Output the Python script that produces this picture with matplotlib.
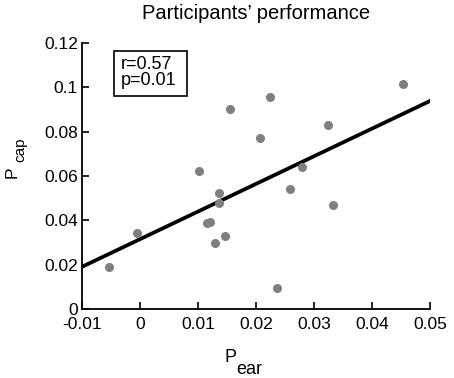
import matplotlib
matplotlib.use('Agg')
import matplotlib.pyplot as plt
from matplotlib.patches import Rectangle

plt.rcParams['font.family'] = ['Liberation Sans', 'DejaVu Sans']

# participants' values
p_ear = [-0.0053, -0.0005, 0.0115, 0.0120, 0.0130, 0.0147, 0.0136, 0.0137,
         0.0101, 0.0156, 0.0224, 0.0207, 0.0324, 0.0454, 0.0280, 0.0258,
         0.0333, 0.0236]
p_cap = [0.0190, 0.0341, 0.0389, 0.0394, 0.0299, 0.0331, 0.0525, 0.0480,
         0.0622, 0.0903, 0.0958, 0.0771, 0.0830, 0.1016, 0.0640, 0.0541,
         0.0469, 0.0096]

# regression line (slope, intercept)
fit_slope = 1.247
fit_intercept = 0.0315
fit_x = [-0.01, 0.05]

xticks = [-0.01, 0, 0.01, 0.02, 0.03, 0.04, 0.05]
xticklabels = ['-0.01', '0', '0.01', '0.02', '0.03', '0.04', '0.05']
yticks = [0, 0.02, 0.04, 0.06, 0.08, 0.1, 0.12]
yticklabels = ['0', '0.02', '0.04', '0.06', '0.08', '0.1', '0.12']

W, H = 454, 378
fig = plt.figure(figsize=(W / 100, H / 100), dpi=100)
ax = fig.add_axes([82 / W, 1 - 309 / H, 348 / W, 266 / H])


def fx(px):
    return px / W


def fy(py):
    return 1 - py / H


ax.plot(p_ear, p_cap, 'o', color='#7f7f7f', markersize=6.5, markeredgewidth=0,
        zorder=3)
ax.plot(fit_x, [fit_slope * x + fit_intercept for x in fit_x], color='black',
        linewidth=2.7, zorder=2)

ax.set_xlim(-0.01, 0.05)
ax.set_ylim(0, 0.12)
ax.set_xticks(xticks)
ax.set_xticklabels(xticklabels)
ax.set_yticks(yticks)
ax.set_yticklabels(yticklabels)
ax.tick_params(direction='in', length=5, width=1.2, labelsize=12.5)
ax.tick_params(axis='x', pad=5.5)
ax.tick_params(axis='y', pad=3)
for s in ['top', 'right']:
    ax.spines[s].set_visible(False)
for s in ['left', 'bottom']:
    ax.spines[s].set_linewidth(1.3)

ax.set_title('Participants\u2019 performance', fontsize=14.5, pad=17)

# axis labels with MATLAB-style subscripts
fig.text(fx(224), fy(362), 'P', fontsize=13, ha='left', va='baseline')
fig.text(fx(236), fy(374), 'ear', fontsize=13, ha='left', va='baseline')
fig.text(fx(17), fy(178), 'P', fontsize=12.5, rotation=90,
         rotation_mode='anchor', ha='left', va='baseline')
fig.text(fx(24), fy(162), 'cap', fontsize=11, rotation=90,
         rotation_mode='anchor', ha='left', va='baseline')

# stats box
ax.add_patch(Rectangle((32 / 348, (309 - 96) / 266), 73 / 348, 45 / 266,
                       transform=ax.transAxes, facecolor='white',
                       edgecolor='black', linewidth=1.2, zorder=4))
ax.text(39 / 348, (309 - 56) / 266, 'r=0.57\np=0.01', transform=ax.transAxes,
        fontsize=13, va='top', ha='left', linespacing=0.95, zorder=5)

fig.savefig('out.png', dpi=100)
